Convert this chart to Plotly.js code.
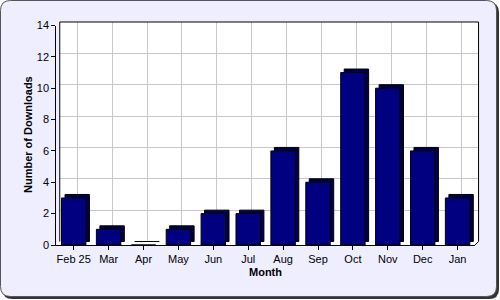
<!DOCTYPE html>
<html>
<head>
<meta charset="utf-8">
<script src="https://cdn.plot.ly/plotly-3.0.1.min.js"></script>
<style>html,body{margin:0;padding:0;background:#fff}#chart{width:500px;height:300px}</style>
</head>
<body>
<div id="chart"></div>
<script>
const months = ["Feb 25","Mar","Apr","May","Jun","Jul","Aug","Sep","Oct","Nov","Dec","Jan"];
const downloads = [3,1,0,1,2,2,6,4,11,10,6,3];
const yTickVals = [0,2,4,6,8,10,12,14];

const W = 500, H = 300;
const px = x => x / W;
const py = y => 1 - y / H;
// geometry (pixels)
const axL = 56.25, axR = 475.05, axB = 245, axT = 25.5;
const dx = 3.5, dy = 3.5;
const barW = 0.7;
const depthCat = dx / ((axR - axL) / months.length);
const depthVal = dy / ((axB - axT) / 14);

function P(x, y) { return px(x).toFixed(5) + ',' + py(y).toFixed(5); }
function roundRect(x0, y0, x1, y1, r) {
  return 'M' + P(x0 + r, y0) + ' L' + P(x1 - r, y0) + ' Q' + P(x1, y0) + ' ' + P(x1, y0 + r) +
    ' L' + P(x1, y1 - r) + ' Q' + P(x1, y1) + ' ' + P(x1 - r, y1) +
    ' L' + P(x0 + r, y1) + ' Q' + P(x0, y1) + ' ' + P(x0, y1 - r) +
    ' L' + P(x0, y0 + r) + ' Q' + P(x0, y0) + ' ' + P(x0 + r, y0) + ' Z';
}

const font = {family: 'Liberation Sans, Arial, sans-serif', size: 11, color: '#000'};
const titleFont = {family: font.family, size: 11, color: '#000', weight: 'bold'};

const traces = [
  {type: 'scatter', x: [], y: [], xaxis: 'x', yaxis: 'y', showlegend: false, hoverinfo: 'skip'},
  {type: 'bar', x: months, y: downloads, base: depthVal, offset: -barW / 2 + depthCat, width: barW,
   xaxis: 'x2', yaxis: 'y2', marker: {color: '#00004a', line: {color: '#000', width: 1}},
   showlegend: false, hoverinfo: 'skip'},
  {type: 'bar', x: months, y: downloads, offset: -barW / 2, width: barW,
   xaxis: 'x2', yaxis: 'y2', marker: {color: '#000080', line: {color: '#000', width: 1}},
   showlegend: false}
];

const layout = {
  width: W, height: H,
  margin: {l: 0, r: 0, t: 0, b: 0},
  paper_bgcolor: '#ffffff',
  plot_bgcolor: 'rgba(0,0,0,0)',
  font: font,
  barmode: 'overlay',
  showlegend: false,
  xaxis: {domain: [px(axL + dx), px(axR + dx)], anchor: 'y', type: 'linear',
    range: [-0.5, months.length - 0.5], tickvals: months.map((m, i) => i),
    showgrid: true, gridcolor: '#c8c8c8', gridwidth: 1,
    showticklabels: false, ticks: '', zeroline: false, showline: false, fixedrange: true},
  yaxis: {domain: [py(axB - dy), py(axT - dy)], anchor: 'x', range: [0, 14], tickvals: yTickVals,
    showgrid: true, gridcolor: '#c8c8c8', gridwidth: 1, showticklabels: false, ticks: '',
    zeroline: false, showline: false, fixedrange: true},
  xaxis2: {domain: [px(axL), px(axR)], anchor: 'y2', type: 'category',
    range: [-0.5, months.length - 0.5], showgrid: false, zeroline: false,
    showline: true, linecolor: '#000', linewidth: 1, ticks: 'outside', ticklen: 4, tickcolor: '#000',
    tickfont: font, automargin: false, fixedrange: true},
  yaxis2: {domain: [py(axB), py(axT)], anchor: 'x2', range: [0, 14], tickvals: yTickVals,
    showgrid: false, zeroline: false, showline: true, linecolor: '#000', linewidth: 1,
    ticks: 'outside', ticklen: 4, tickcolor: '#000', tickfont: font,
    automargin: false, fixedrange: true},
  annotations: [
    {text: 'Month', xref: 'paper', yref: 'paper', x: px(265), y: py(272),
     xanchor: 'center', yanchor: 'middle', showarrow: false, font: titleFont},
    {text: 'Number of Downloads', xref: 'paper', yref: 'paper', x: px(28), y: py(135),
     xanchor: 'center', yanchor: 'middle', textangle: -90, showarrow: false, font: titleFont}
  ],
  shapes: [
    {type: 'path', xref: 'paper', yref: 'paper', layer: 'below',
     path: roundRect(2.5, 2.5, 499, 299, 10), fillcolor: '#333', line: {width: 0}},
    {type: 'path', xref: 'paper', yref: 'paper', layer: 'below',
     path: roundRect(0.5, 0.5, 496.5, 296.5, 10), fillcolor: '#eeeeff', line: {color: '#555', width: 1}},
    {type: 'path', xref: 'paper', yref: 'paper', layer: 'below',
     path: 'M' + P(axL, axB) + ' L' + P(axL + dx, axB - dy) + ' L' + P(axL + dx, axT - dy) +
       ' L' + P(axR + dx, axT - dy) + ' L' + P(axR + dx, axB - dy) + ' L' + P(axR, axB) + ' Z',
     fillcolor: '#ffffff', line: {width: 0}},
    {type: 'path', xref: 'paper', yref: 'paper', layer: 'above',
     path: 'M' + P(axL + dx, axB - dy) + ' L' + P(axL + dx, axT - dy) +
       ' L' + P(axR + dx, axT - dy) + ' L' + P(axR + dx, axB - dy) + ' L' + P(axR, axB),
     fillcolor: 'rgba(0,0,0,0)', line: {color: '#000', width: 1}}
  ]
};

Plotly.newPlot('chart', traces, layout, {displayModeBar: false, staticPlot: true});
</script>
</body>
</html>
